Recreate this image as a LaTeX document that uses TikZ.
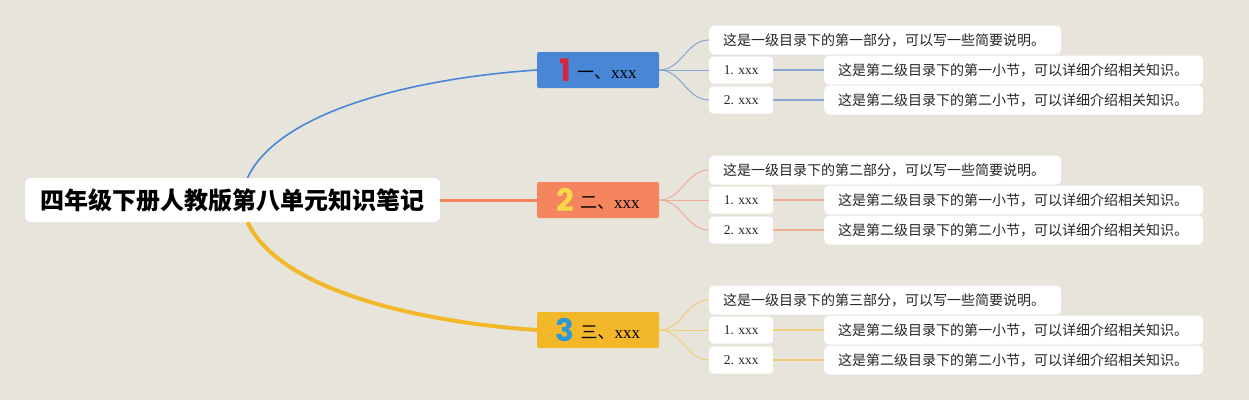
\documentclass[tikz,border=0pt]{standalone}
\usepackage{fontspec}
\setmainfont{Liberation Serif}
\newfontfamily\cjk{Noto Sans CJK SC}
\newfontfamily\numfont{Poppins}
\usepackage{tikz}
\usetikzlibrary{positioning,calc}
\definecolor{bg}{HTML}{E7E4DC}
\definecolor{topicblue}{HTML}{4A86D6}
\definecolor{topicorange}{HTML}{F5855F}
\definecolor{topicyellow}{HTML}{F3B829}
\definecolor{subblue}{HTML}{85A6D2}
\definecolor{suborange}{HTML}{EFAE95}
\definecolor{subyellow}{HTML}{F1CC76}
\definecolor{numred}{HTML}{D7263D}
\definecolor{numyellow}{HTML}{F8D749}
\definecolor{numblue}{HTML}{2A98D8}
\newcommand\topicnum[2]{\raisebox{-3pt}{\numfont\bfseries\fontsize{31}{31}\selectfont\color{#1}#2}\hspace{6pt}}
\tikzset{
  rootbox/.style={fill=white,rounded corners=6pt,minimum width=415pt,minimum height=44pt,inner sep=0pt,font=\cjk\bfseries\fontsize{24}{24}\selectfont},
  topicbox/.style={rounded corners=2pt,minimum width=122pt,minimum height=36pt,inner sep=0pt,font=\fontsize{17}{17}\selectfont},
  notebox/.style={fill=white,rounded corners=5pt,anchor=west,minimum height=29pt,inner xsep=14pt,inner ysep=0pt,align=left,text=black!85,font=\cjk\fontsize{14}{14}\selectfont},
  lvlone/.style={notebox,text width=324pt},
  lvltwo/.style={notebox,text width=351pt},
  itembox/.style={fill=white,rounded corners=4pt,anchor=west,minimum width=64pt,minimum height=27pt,inner sep=0pt,text=black!85,font=\fontsize{13.5}{13.5}\selectfont},
}
\begin{document}
\begin{tikzpicture}[x=1pt,y=-1pt]
\fill[bg] (0,0) rectangle (1249,400);
\useasboundingbox (0,0) rectangle (1249,400);

\node [rootbox] (root) at (232.5,200) {四年级下册人教版第八单元知识笔记};

% first topic
\node [topicbox,fill=topicblue] (t1) at (598,70) {\topicnum{numred}{1}{\cjk 一、}xxx};
\node [lvlone] (t1n) at (709,40) {这是一级目录下的第一部分，可以写一些简要说明。};
\node [itembox] (t1a) at (709,70) {1. xxx};
\node [itembox] (t1b) at (709,100) {2. xxx};
\node [lvltwo] (t1an) at (824,70) {这是第二级目录下的第一小节，可以详细介绍相关知识。};
\node [lvltwo] (t1bn) at (824,100) {这是第二级目录下的第二小节，可以详细介绍相关知识。};

% second topic
\node [topicbox,fill=topicorange] (t2) at (598,200) {\topicnum{numyellow}{2}{\cjk 二、}xxx};
\node [lvlone] (t2n) at (709,170) {这是一级目录下的第二部分，可以写一些简要说明。};
\node [itembox] (t2a) at (709,200) {1. xxx};
\node [itembox] (t2b) at (709,230) {2. xxx};
\node [lvltwo] (t2an) at (824,200) {这是第二级目录下的第一小节，可以详细介绍相关知识。};
\node [lvltwo] (t2bn) at (824,230) {这是第二级目录下的第二小节，可以详细介绍相关知识。};

% third topic
\node [topicbox,fill=topicyellow] (t3) at (598,330) {\topicnum{numblue}{3}{\cjk 三、}xxx};
\node [lvlone] (t3n) at (709,300) {这是一级目录下的第三部分，可以写一些简要说明。};
\node [itembox] (t3a) at (709,330) {1. xxx};
\node [itembox] (t3b) at (709,360) {2. xxx};
\node [lvltwo] (t3an) at (824,330) {这是第二级目录下的第一小节，可以详细介绍相关知识。};
\node [lvltwo] (t3bn) at (824,360) {这是第二级目录下的第二小节，可以详细介绍相关知识。};

% main branches
\draw[topicblue,line width=1.6pt] ([xshift=15pt]root.north) .. controls +(32,-68) and +(-119,8) .. (t1.west);
\draw[topicorange,line width=3pt] (root.east) -- (t2.west);
\draw[topicyellow,line width=4pt] ([xshift=15pt]root.south) .. controls +(32,68) and +(-119,-8) .. (t3.west);

% sub branches
\draw[subblue,line width=1pt] (t1.east) to[out=0,in=180] (t1n.west);
\draw[subblue,line width=1pt] (t1.east) -- (t1a.west);
\draw[subblue,line width=1pt] (t1.east) to[out=0,in=180] (t1b.west);
\draw[subblue,line width=1.2pt] (t1a.east) -- (t1an.west);
\draw[subblue,line width=1.2pt] (t1b.east) -- (t1bn.west);

\draw[suborange,line width=1pt] (t2.east) to[out=0,in=180] (t2n.west);
\draw[suborange,line width=1pt] (t2.east) -- (t2a.west);
\draw[suborange,line width=1pt] (t2.east) to[out=0,in=180] (t2b.west);
\draw[suborange,line width=1.2pt] (t2a.east) -- (t2an.west);
\draw[suborange,line width=1.2pt] (t2b.east) -- (t2bn.west);

\draw[subyellow,line width=1pt] (t3.east) to[out=0,in=180] (t3n.west);
\draw[subyellow,line width=1pt] (t3.east) -- (t3a.west);
\draw[subyellow,line width=1pt] (t3.east) to[out=0,in=180] (t3b.west);
\draw[subyellow,line width=1.2pt] (t3a.east) -- (t3an.west);
\draw[subyellow,line width=1.2pt] (t3b.east) -- (t3bn.west);
\end{tikzpicture}
\end{document}
